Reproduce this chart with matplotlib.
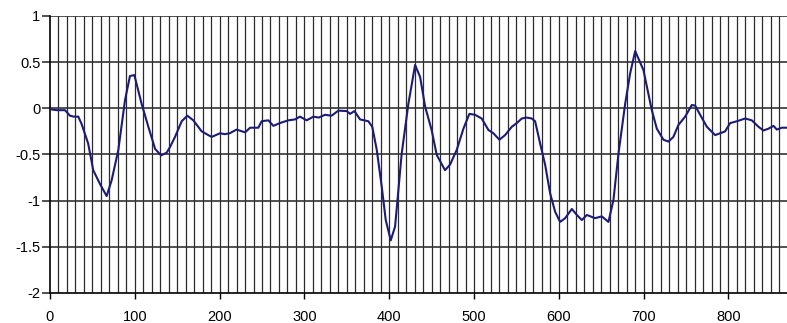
import matplotlib
matplotlib.use('Agg')
import matplotlib.pyplot as plt
import numpy as np

# values
x_vals = [0, 8, 17.7, 23.6, 28, 33.4, 37.3, 45, 51, 59, 66.8, 72.7, 80.6, 88.5, 94.3, 99.5,
          108, 116, 124, 131, 137.6, 141.5, 147.4, 155.3, 162, 169, 178.9, 190.6, 200.5,
          206, 212, 220, 230, 236, 245.7, 249.6, 257.5, 263.4, 271, 281, 289, 294.8,
          302.7, 310.6, 317, 324.3, 332, 340, 350, 353.8, 359, 365.6, 375.4, 380,
          385.3, 391.2, 395.9, 401.8, 406.9, 414.7, 422.6, 430.5, 436.4, 442.3, 450,
          456, 465.8, 471.7, 479.6, 487.5, 494.5, 501.2, 509, 517, 522.8, 529.9,
          536.6, 544.5, 550.4, 556.3, 562, 568, 572, 577.9, 583.8, 589.7, 595.6,
          601.5, 607.4, 615.3, 621.2, 627.1, 633, 642.7, 650.6, 658.5, 664.4, 670.3,
          678.2, 684.1, 690, 699.7, 709.6, 715.5, 723.3, 729.2, 735, 741, 748.9,
          756.8, 760.7, 766.6, 774.5, 784.3, 790.2, 796, 802, 809.9, 819.7, 827.5,
          835.4, 841.3, 847.2, 853.1, 857, 862.9, 869]
y_vals = [-0.01, -0.02, -0.02, -0.08, -0.09, -0.09, -0.17, -0.38, -0.67, -0.82, -0.95,
          -0.78, -0.45, 0.09, 0.35, 0.36,
          0.05, -0.2, -0.44, -0.51, -0.48, -0.42, -0.31, -0.14, -0.08, -0.13, -0.25,
          -0.31, -0.27, -0.28, -0.27, -0.23, -0.26, -0.21, -0.21, -0.14, -0.13, -0.19,
          -0.16, -0.13, -0.12, -0.09,
          -0.13, -0.09, -0.1, -0.07, -0.08, -0.025, -0.03, -0.06, -0.03, -0.12, -0.14,
          -0.2, -0.45, -0.85, -1.21, -1.43, -1.28, -0.49, 0.05, 0.47, 0.34, 0.02,
          -0.235, -0.505, -0.67, -0.61, -0.45, -0.22, -0.06, -0.07, -0.11, -0.235,
          -0.27, -0.34, -0.29, -0.2, -0.16, -0.11, -0.1, -0.11, -0.14, -0.38, -0.61,
          -0.92, -1.12, -1.23, -1.19, -1.09, -1.155, -1.21, -1.155, -1.19, -1.17,
          -1.23, -0.99, -0.49, 0.05, 0.38, 0.62, 0.415, -0.02, -0.22, -0.34, -0.36,
          -0.31, -0.18, -0.09, 0.036, 0.03, -0.07, -0.2, -0.29, -0.27, -0.25, -0.16,
          -0.14, -0.11, -0.13, -0.2, -0.24, -0.22, -0.19, -0.23, -0.21, -0.21]

x_major = [0, 100, 200, 300, 400, 500, 600, 700, 800]
y_major = [-2, -1.5, -1, -0.5, 0, 0.5, 1]
y_labels = ['-2', '-1.5', '-1', '-0.5', '0', '0.5', '1']

plt.rcParams['font.family'] = ['Liberation Sans', 'DejaVu Sans']

fig = plt.figure(figsize=(7.87, 3.23), dpi=100)
ax = fig.add_axes([0.0635, 0.0929, 0.9365, 0.8576])

# vertical grid every 10 units
for gx in np.arange(10, 870, 10):
    ax.axvline(gx, color='#2a2a2a', lw=0.9, zorder=1)
for gy in y_major[1:]:
    ax.axhline(gy, color='#333333', lw=1.2, zorder=1)

ax.plot(x_vals, y_vals, color='#1c1c78', lw=1.5, zorder=3)

ax.set_xlim(0, 869)
ax.set_ylim(-2, 1)
ax.set_xticks(x_major)
ax.set_yticks(y_major)
ax.set_yticklabels(y_labels)
ax.tick_params(axis='x', length=4, width=1, pad=8, labelsize=10.5)
ax.tick_params(axis='y', length=6, width=1.2, pad=1, labelsize=10.5, color='#333333')

for s in ['top', 'right']:
    ax.spines[s].set_visible(False)
ax.spines['left'].set_linewidth(1.2)
ax.spines['bottom'].set_linewidth(1.2)

fig.savefig('out.png', dpi=100)
